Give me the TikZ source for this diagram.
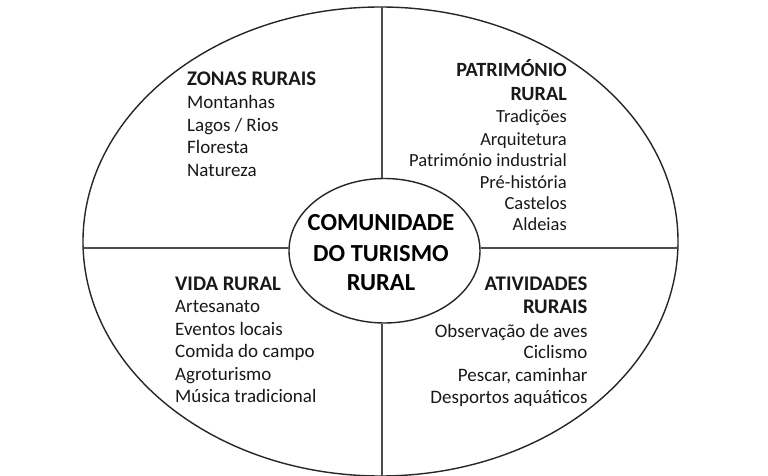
\documentclass[tikz,border=0pt]{standalone}
\usepackage{fontspec}
\setmainfont{Carlito}
\usetikzlibrary{shapes.geometric}
\begin{document}
\begin{tikzpicture}[x=1pt,y=-1pt,
  ring/.style={draw=black!85,line width=1.4pt,ellipse,inner sep=0pt},
  divider/.style={draw=black!70,line width=1.1pt},
  body/.style={font=\fontsize{19}{22.5}\selectfont,inner sep=0pt,text=black!90},
  bodytr/.style={font=\fontsize{18.5}{22}\selectfont,inner sep=0pt,text=black!90},
  head/.style={font=\bfseries\fontsize{20.8}{24}\selectfont,inner sep=0pt,text=black!90},
  headtr/.style={font=\bfseries\fontsize{20.2}{24}\selectfont,inner sep=0pt,text=black!90},
  hubtext/.style={font=\bfseries\fontsize{24.5}{30}\selectfont,align=center,inner sep=0pt}]
\useasboundingbox (0,0) rectangle (768,476);
\fill[white] (0,0) rectangle (768,476);
% outer ellipse
\node[ring,minimum width=595pt,minimum height=469pt] (outer) at (380.5,241.5) {};
% endpoints of the dividers on the outer ellipse
\coordinate (vtop) at (382,7);
\coordinate (vbot) at (382,476);
\coordinate (hleft) at (83.1,248);
\coordinate (hright) at (677.9,248);
% inner ellipse
\node[ring,minimum width=191pt,minimum height=144.5pt,fill=white] (hub) at (384.5,250.75) {};
\draw[divider] (vtop) -- (vtop |- hub.north);
\draw[divider] (vtop |- hub.south) -- (vbot);
\draw[divider] (hleft) -- (hleft -| hub.west);
\draw[divider] (hleft -| hub.east) -- (hright);
% hub text
\node[hubtext,anchor=base] (hubA) at (381,230) {COMUNIDADE};
\node[hubtext,anchor=base] (hubB) at (381,261) {DO TURISMO};
\node[hubtext,anchor=base] (hubC) at (381,290) {RURAL};
% top left
\node[head,anchor=base west] (zh) at (187,86) {ZONAS RURAIS};
\node[body,anchor=base west] (z1) at (187,109) {Montanhas};
\node[body,anchor=base west] (z2) at (187,131.5) {Lagos / Rios};
\node[body,anchor=base west] (z3) at (187,153.5) {Floresta};
\node[body,anchor=base west] (z4) at (187,176) {Natureza};
% top right
\node[headtr,anchor=base east] (ph1) at (567,77) {PATRIMÓNIO};
\node[headtr,anchor=base east] (ph2) at (567,101) {RURAL};
\node[bodytr,anchor=base east] (p1) at (567,123) {Tradições};
\node[bodytr,anchor=base east] (p2) at (567,145.5) {Arquitetura};
\node[bodytr,anchor=base east] (p3) at (567,166.7) {Património industrial};
\node[bodytr,anchor=base east] (p4) at (567,188) {Pré-história};
\node[bodytr,anchor=base east] (p5) at (567,209) {Castelos};
\node[bodytr,anchor=base east] (p6) at (567,230.7) {Aldeias};
% bottom left
\node[head,anchor=base west] (vh) at (175,290) {VIDA RURAL};
\node[body,anchor=base west] (v1) at (175,312.7) {Artesanato};
\node[body,anchor=base west] (v2) at (175,335.7) {Eventos locais};
\node[body,anchor=base west] (v3) at (175,357.7) {Comida do campo};
\node[body,anchor=base west] (v4) at (175,380.7) {Agroturismo};
\node[body,anchor=base west] (v5) at (175,402.7) {Música tradicional};
% bottom right
\node[head,anchor=base east] (ah1) at (587.7,290) {ATIVIDADES};
\node[head,anchor=base east] (ah2) at (587.7,313.3) {RURAIS};
\node[body,anchor=base east] (a1) at (587.7,337.3) {Observação de aves};
\node[body,anchor=base east] (a2) at (587.7,358.3) {Ciclismo};
\node[body,anchor=base east] (a3) at (587.7,381.7) {Pescar, caminhar};
\node[body,anchor=base east] (a4) at (587.7,403.3) {Desportos aquáticos};
\end{tikzpicture}
\end{document}
